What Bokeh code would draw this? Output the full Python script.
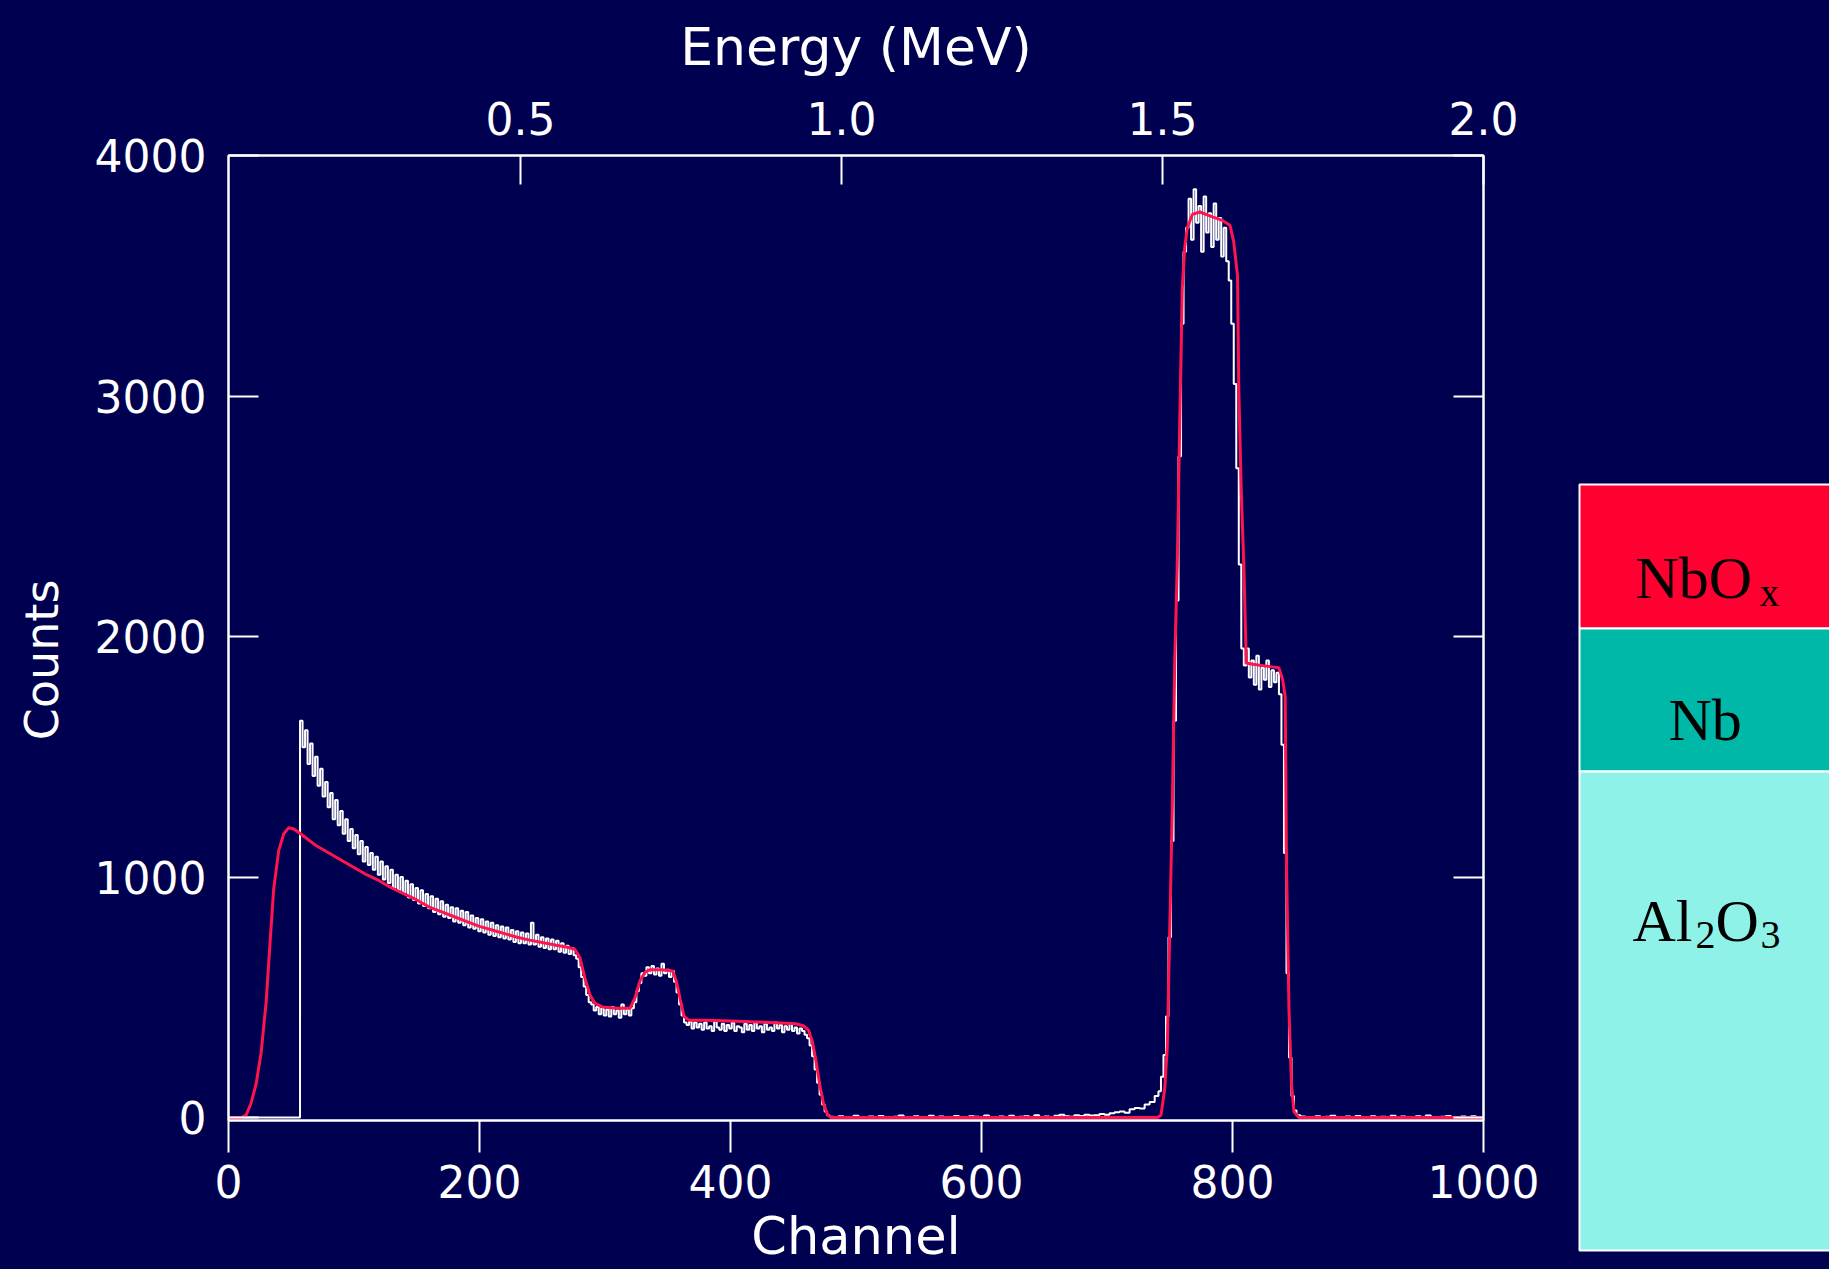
from bokeh.plotting import figure
from bokeh.models import Range1d, LinearAxis, FixedTicker, PrintfTickFormatter
from bokeh.layouts import row
from bokeh.embed import file_html
from bokeh.resources import INLINE
from bokeh.core.properties import value

# ---------------- data ----------------
# measured spectrum (white): 4-channel bins in flat parts, 2-channel bins where it is busy
exp_channel = (list(range(0, 57, 4)) + list(range(58, 481, 2)) + list(range(484, 741, 4))
               + list(range(742, 853, 2)) + list(range(856, 1001, 4)))
exp_counts = [
    0, 0, 0, 0, 0, 0, 0, 0, 0, 0, 0, 0, 0, 0, 0,
    # ch 58 .. 480 (step 2)
    1650, 1540, 1610, 1470, 1555, 1420, 1500, 1380, 1450, 1335,
    1395, 1290, 1350, 1240, 1320, 1215, 1275, 1180, 1240, 1150,
    1200, 1120, 1175, 1095, 1150, 1065, 1125, 1050, 1100, 1030,
    1085, 1010, 1065, 990, 1045, 975, 1030, 955, 1010, 945,
    1000, 935, 985, 915, 970, 905, 955, 890, 945, 880,
    930, 870, 920, 855, 910, 845, 900, 835, 885, 830,
    875, 815, 870, 810, 860, 800, 855, 790, 840, 785,
    830, 775, 825, 770, 815, 760, 810, 755, 800, 750,
    795, 745, 790, 740, 780, 730, 775, 725, 770, 725,
    765, 720, 810, 720, 760, 710, 750, 705, 745, 700,
    740, 700, 735, 690, 725, 685, 715, 680, 705, 675,
    660, 625, 585, 545, 510, 480, 470, 445, 460, 430,
    455, 425, 450, 420, 460, 430, 445, 415, 470, 430,
    450, 425, 455, 480, 525, 560, 600, 590, 625, 600,
    630, 595, 620, 590, 640, 600, 615, 585, 610, 565,
    520, 470, 425, 395, 385, 400, 370, 395, 375, 390,
    365, 395, 370, 380, 360, 400, 375, 365, 390, 360,
    385, 370, 395, 360, 380, 375, 355, 390, 365, 385,
    360, 395, 370, 380, 355, 390, 365, 375, 360, 395,
    370, 385, 355, 380, 365, 390, 360, 375, 350, 370,
    360, 345, 330, 300, 255, 200, 145, 95, 55, 25,
    10, 4,
    # ch 484 .. 740 (step 4)
    0, 6, 2, 0, 8, 3, 0, 5, 0, 7,
    2, 0, 4, 9, 0, 3, 6, 0, 2, 8,
    0, 5, 3, 0, 7, 1, 0, 6, 4, 0,
    9, 2, 0, 5, 3, 8, 0, 4, 6, 0,
    10, 3, 5, 0, 8, 12, 6, 4, 10, 7,
    12, 9,
    10, 15, 12, 18, 22, 25, 20, 35, 40, 38, 55, 65, 90,
    # ch 742 .. 852 (step 2)
    110, 170, 260, 420, 750, 1150, 1650, 2150, 2750, 3300, 3600,
    3700, 3820, 3650, 3860, 3720, 3790, 3600, 3830, 3680, 3760,
    3620, 3800, 3650, 3740, 3580, 3700, 3560, 3480, 3300, 3050,
    2700, 2300, 1950, 1880, 1950, 1830, 1900, 1800, 1920, 1780,
    1870, 1820, 1900, 1790, 1860, 1810, 1850, 1760, 1550, 1100,
    600, 250, 90, 30, 10,
    # ch 856 .. 1000 (step 4)
    5,
    3, 0, 6, 0, 4, 8, 0, 2, 5, 0,
    7, 3, 0, 6, 0, 4, 2, 8, 0, 5,
    0, 3, 6, 0, 9, 2, 0, 4, 7, 0,
    3, 5, 0, 6, 2, 0,
]
assert len(exp_channel) == len(exp_counts), (len(exp_channel), len(exp_counts))

# simulated spectrum (red)
sim_channel = [0, 10, 14, 18, 22, 26, 30, 33, 36, 40, 44, 48, 52, 56, 60, 70, 80, 90,
               100, 110, 120, 130, 140, 150, 160, 170, 180, 190, 200, 210, 220, 230,
               240, 250, 260, 270, 276, 280, 284, 288, 292, 298, 310, 320, 324, 328,
               332, 336, 345, 354, 357, 360, 363, 367, 380, 400, 420, 440, 452, 458,
               462, 465, 468, 471, 474, 477, 480, 740, 743, 746, 748, 750, 752, 754,
               756, 758, 760, 762, 764, 768, 774, 784, 792, 798, 801, 804, 805, 807,
               809, 811, 816, 830, 837, 840, 842, 843, 845, 847, 849, 853, 1000]
sim_counts = [0, 0, 10, 60, 140, 270, 480, 720, 950, 1110, 1180, 1205, 1200, 1185, 1170,
              1130, 1100, 1070, 1040, 1010, 985, 955, 930, 905, 875, 855, 835, 815, 795,
              780, 765, 750, 738, 728, 718, 708, 700, 665, 580, 510, 475, 460, 455, 455,
              500, 570, 605, 615, 615, 610, 565, 490, 420, 405, 405, 402, 398, 393, 390,
              382, 365, 320, 240, 140, 60, 15, 0, 0, 10, 120, 290, 780, 1280, 1900, 2300,
              2900, 3450, 3620, 3700, 3755, 3765, 3745, 3730, 3710, 3640, 3500, 3030, 2600,
              2300, 1890, 1885, 1875, 1870, 1820, 1750, 1060, 450, 140, 25, 0, 0]
assert len(sim_channel) == len(sim_counts)

y_ticks = [0, 1000, 2000, 3000, 4000]
x_ticks = [0, 200, 400, 600, 800, 1000]
energy_ticks = [0.5, 1.0, 1.5, 2.0]
energy_range = (0.045, 2.0)   # MeV at channel 0 and channel 1000

layer_colors = ["#FF0030", "#00B8A8", "#8EF2E8"]

# ---------------- style ----------------
BG = "#000050"
RED = "#FF1450"
FONT = "DejaVu Sans"

p = figure(width=1577, height=1269, output_backend="svg", toolbar_location=None,
           x_range=Range1d(0, 1000), y_range=Range1d(-12, 4000),
           min_border_left=228, min_border_right=94, min_border_top=155,
           min_border_bottom=149,
           background_fill_color=BG, border_fill_color=BG,
           outline_line_color="white", outline_line_width=2)
p.frame_align = False
p.grid.visible = False
p.extra_x_ranges = {"energy": Range1d(*energy_range)}


def style(ax, tin, tout, standoff, als, label_size="52px"):
    ax.axis_line_color = "white"
    ax.axis_line_width = 2
    ax.major_tick_line_color = "white"
    ax.major_tick_line_width = 2
    ax.major_tick_in = tin
    ax.major_tick_out = tout
    ax.minor_tick_line_color = None
    ax.major_label_text_color = "white"
    ax.major_label_text_font = FONT
    ax.major_label_text_font_size = "44px"
    ax.major_label_standoff = standoff
    ax.axis_label_text_color = "white"
    ax.axis_label_text_font = FONT
    ax.axis_label_text_font_size = label_size
    ax.axis_label_text_font_style = "normal"
    ax.axis_label_standoff = als


left = p.yaxis[0]
left.ticker = FixedTicker(ticks=y_ticks)
left.axis_label = "Counts\u00a0\u00a0\u00a0"
style(left, 30, 0, 22, 23, "46px")

bottom = p.xaxis[0]
bottom.ticker = FixedTicker(ticks=x_ticks)
bottom.axis_label = "Channel"
style(bottom, 0, 32, 12, 6, "51px")

top = LinearAxis(x_range_name="energy", ticker=FixedTicker(ticks=energy_ticks),
                 formatter=PrintfTickFormatter(format="%.1f"), axis_label="Energy (MeV)")
style(top, 29, 0, 21, 22)
p.add_layout(top, "above")

right = LinearAxis(ticker=FixedTicker(ticks=y_ticks),
                   major_label_overrides={t: "" for t in y_ticks})
style(right, 30, 0, 0, 0)
p.add_layout(right, "right")

p.step(exp_channel, exp_counts, mode="center", line_color="white", line_width=2)
p.line(sim_channel, sim_counts, line_color=RED, line_width=3)

# ---------------- layer stack panel ----------------
p2 = figure(width=252, height=1269, output_backend="svg", toolbar_location=None,
            x_range=Range1d(0, 252), y_range=Range1d(1269, 0),
            x_axis_type=None, y_axis_type=None, min_border=0,
            background_fill_color=BG, border_fill_color=BG, outline_line_color=None)
p2.frame_align = False
p2.grid.visible = False

layer_top = [484, 628, 771]
layer_bot = [628, 771, 1250]
p2.quad(left=2, right=262, top=layer_top, bottom=layer_bot,
        fill_color=layer_colors, line_color="white", line_width=2)

SERIF = value("Liberation Serif")
p2.text(x=[58, 91, 55, 138], y=[577, 719, 920, 920], text=["NbO", "Nb", "Al", "O"],
        text_font=SERIF, text_font_size="60px", text_color="black",
        text_baseline="alphabetic", text_align="left")
p2.text(x=[182, 118, 183], y=[592, 934, 934], text=["x", "2", "3"],
        text_font=SERIF, text_font_size="40px", text_color="black",
        text_baseline="alphabetic", text_align="left")

layout = row(p, p2)
html = file_html(layout, INLINE, title="RBS spectrum NbOx / Nb / Al2O3")
html = html.replace("<html", '<html style="background:%s"' % BG, 1)
html = html.replace("<body>", '<body style="margin:0;background:%s;overflow:hidden;">' % BG, 1)
open("out.html", "w").write(html)
